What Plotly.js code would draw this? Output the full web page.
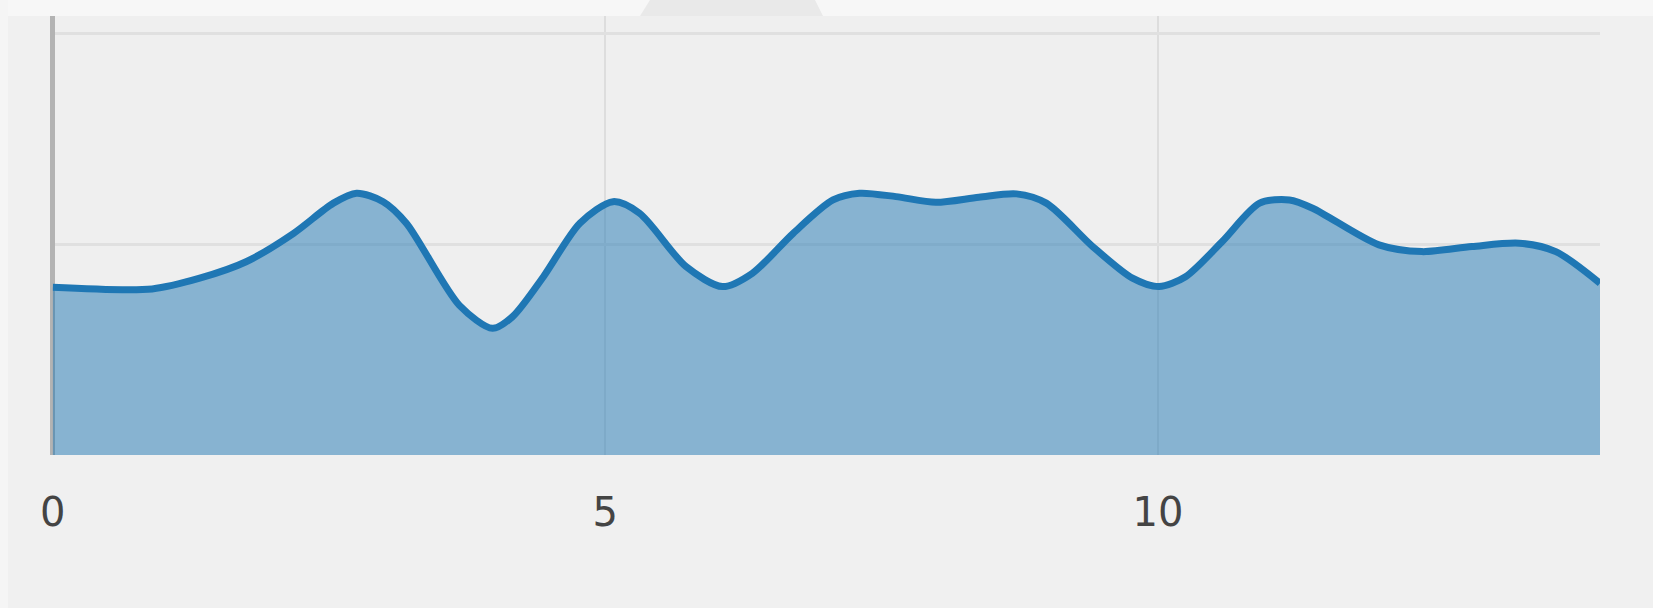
<!DOCTYPE html>
<html>
<head>
<meta charset="utf-8">
<script src="https://cdn.plot.ly/plotly-3.0.1.min.js"></script>
<style>
html,body{margin:0;padding:0;background:#f0f0f0;}
#chart{width:1653px;height:608px;}
</style>
</head>
<body>
<div id="chart"></div>
<script>
// Data
var xValues = [0, 0.9, 1.33, 1.75, 2.18, 2.54, 2.75, 2.99, 3.2, 3.68, 3.98, 4.16, 4.44, 4.77, 5.07, 5.31, 5.73, 6.06, 6.33, 6.7, 7.06, 7.3, 7.63, 7.99, 8.38, 8.72, 8.99, 9.41, 9.77, 10.01, 10.25, 10.58, 10.92, 11.19, 11.4, 12.0, 12.39, 12.84, 13.27, 13.6, 14.0];
var yValues = [0.796, 0.788, 0.839, 0.917, 1.052, 1.195, 1.242, 1.202, 1.10, 0.71, 0.601, 0.656, 0.846, 1.10, 1.202, 1.147, 0.894, 0.799, 0.862, 1.052, 1.21, 1.242, 1.226, 1.199, 1.223, 1.239, 1.195, 0.989, 0.839, 0.799, 0.846, 1.012, 1.195, 1.21, 1.171, 0.997, 0.965, 0.989, 1.005, 0.965, 0.815];
var xTickValues = [0, 5, 10];
var xTickLabels = ['0', '5', '10'];

var W = 1653, H = 608;
var plotLeft = 52.7, plotRight = 1600, plotTop = 16, plotBottom = 455;

var trace = {
  x: xValues,
  y: yValues,
  type: 'scatter',
  mode: 'lines',
  fill: 'tozeroy',
  fillcolor: 'rgba(31,119,180,0.5)',
  line: {color: '#1f77b4', width: 7, shape: 'spline', smoothing: 0.8},
  hoverinfo: 'none'
};

var layout = {
  width: W,
  height: H,
  margin: {l: 0, r: 0, t: 0, b: 0, pad: 0},
  paper_bgcolor: '#f0f0f0',
  plot_bgcolor: '#efefef',
  showlegend: false,
  xaxis: {
    domain: [plotLeft / W, plotRight / W],
    range: [0, 14],
    tickvals: xTickValues,
    ticktext: xTickLabels,
    showgrid: true,
    gridcolor: '#dddddd',
    gridwidth: 2,
    zeroline: true,
    zerolinecolor: '#b3b3b3',
    zerolinewidth: 5,
    showline: false,
    ticks: '',
    ticklabelstandoff: 30,
    tickfont: {family: 'DejaVu Sans, Verdana, sans-serif', size: 40, color: '#444444'},
    automargin: false,
    fixedrange: true
  },
  yaxis: {
    domain: [(H - plotBottom) / H, (H - plotTop) / H],
    range: [0, 2.083],
    dtick: 1,
    showticklabels: false,
    showgrid: true,
    gridcolor: '#e0e0e0',
    gridwidth: 3.5,
    zeroline: false,
    showline: false,
    ticks: '',
    automargin: false,
    fixedrange: true
  },
  shapes: [
    {type: 'rect', xref: 'paper', yref: 'paper', x0: 0, x1: 1, y0: (H - 16) / H, y1: 1,
     fillcolor: '#f7f7f7', line: {width: 0}, layer: 'below'},
    {type: 'rect', xref: 'paper', yref: 'paper', x0: 0, x1: 8 / W, y0: 0, y1: 1,
     fillcolor: '#f5f5f5', line: {width: 0}, layer: 'below'},
    {type: 'path', xref: 'paper', yref: 'paper',
     path: 'M ' + (640 / W) + ',' + ((H - 16) / H) + ' L ' + (650 / W) + ',1 L ' + (815 / W) + ',1 L ' + (823 / W) + ',' + ((H - 16) / H) + ' Z',
     fillcolor: '#e9e9e9', line: {width: 0}, layer: 'below'}
  ]
};

Plotly.newPlot('chart', [trace], layout, {displayModeBar: false, staticPlot: true});
</script>
</body>
</html>
